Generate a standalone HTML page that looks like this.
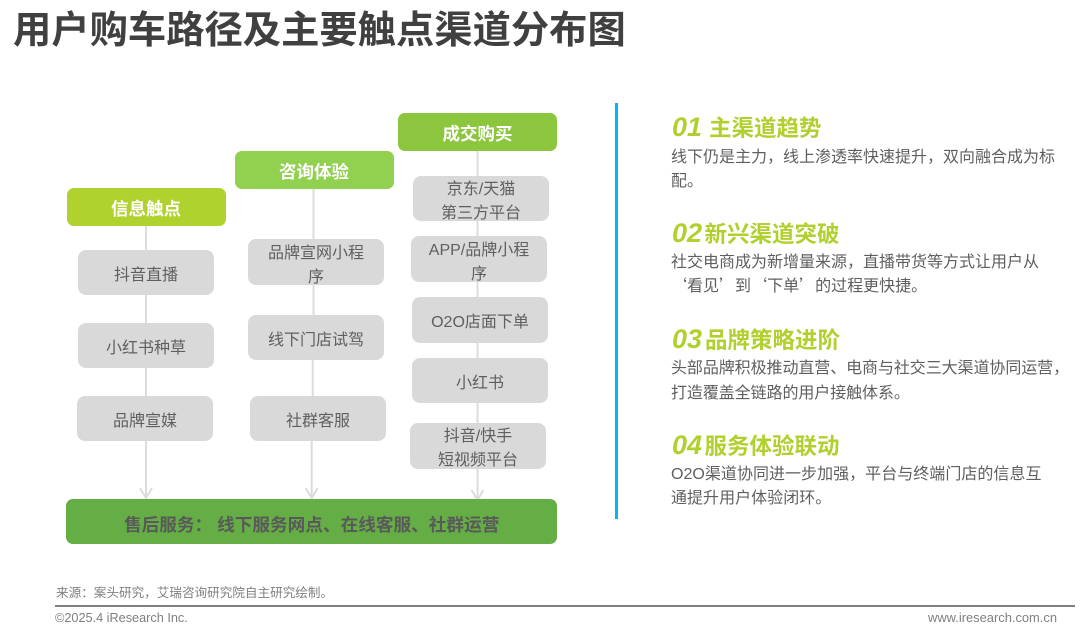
<!DOCTYPE html>
<html lang="zh-CN"><head><meta charset="utf-8">
<style>
html,body{margin:0;padding:0;background:#fff}
#p{position:relative;width:1080px;height:631px;overflow:hidden;background:#fff;font-family:"Liberation Sans","Noto Sans CJK SC",sans-serif}
#p div{position:absolute;box-sizing:border-box}
.h{border-radius:7px;color:#fff;font-weight:bold;font-size:17.5px;display:flex;align-items:center;justify-content:center;width:159px;height:38px;padding-top:3px}
.g{background:#d9d9d9;border-radius:8px;color:#5f5f5f;font-size:16px;line-height:24px;width:136px;display:flex;align-items:center;justify-content:center;text-align:center;padding-top:7px;white-space:nowrap}
.t{left:672px;color:#b0d02e;font-weight:bold;font-size:22.500px;line-height:30px;white-space:nowrap}
.t i{font-size:27px}
.b{left:671px;width:400px;color:#5f5f5f;font-size:16px;line-height:24.500px;white-space:nowrap}
.q{font-family:"Noto Sans CJK SC",sans-serif;line-height:0}
</style></head><body><div id="p">
<div style="left:13px;top:7px;font-size:38.300px;line-height:48px;font-weight:bold;color:#404040;white-space:nowrap">用户购车路径及主要触点渠道分布图</div>

<svg style="position:absolute;left:0;top:0" width="1080" height="631" fill="none" stroke="#dcdcdc" stroke-width="2">
<path d="M146 225V497M140 488l6 10 6-10"/>
<path d="M313.500 188V315L312.700 360V396L311.700 441V497M305.700 488l6 10 6-10"/>
<path d="M477.500 150V499M471.500 490l6 10 6-10"/>
</svg>

<div class="h" style="left:66.500px;top:188px;background:#b0d22f">信息触点</div>
<div class="h" style="left:234.500px;top:150.500px;background:#92d050">咨询体验</div>
<div class="h" style="left:398px;top:112.500px;background:#8cc63f">成交购买</div>

<div class="g" style="left:78px;top:249.500px;height:45.500px">抖音直播</div>
<div class="g" style="left:78px;top:322.500px;height:45.500px">小红书种草</div>
<div class="g" style="left:77px;top:396px;height:45px">品牌宣媒</div>

<div class="g" style="left:248px;top:239px;height:46px">品牌宣网小程<br>序</div>
<div class="g" style="left:248px;top:315px;height:45px">线下门店试驾</div>
<div class="g" style="left:250px;top:396px;height:45px">社群客服</div>

<div class="g" style="left:413px;top:176px;height:44.500px">京东/天猫<br>第三方平台</div>
<div class="g" style="left:411px;top:236px;height:46px">APP/品牌小程<br>序</div>
<div class="g" style="left:412px;top:297px;height:45.500px">O2O店面下单</div>
<div class="g" style="left:412px;top:358px;height:45px;padding-top:6px">小红书</div>
<div class="g" style="left:410px;top:423px;height:45.500px">抖音/快手<br>短视频平台</div>

<div style="left:66px;top:499px;width:491px;height:45px;background:#65ae45;border-radius:7px;color:#595959;font-weight:bold;font-size:17.650px;line-height:52px;padding-left:58px;white-space:nowrap">售后服务： 线下服务网点、在线客服、社群运营</div>

<div style="left:615px;top:103px;width:3px;height:416px;background:#00b8f0"></div>

<div class="t" style="top:111.500px"><i style="margin-right:7px">01</i>主渠道趋势</div>
<div class="b" style="top:145.500px">线下仍是主力，线上渗透率快速提升，双向融合成为标<br>配。</div>
<div class="t" style="top:218px"><i style="margin-right:2.500px">02</i>新兴渠道突破</div>
<div class="b" style="top:250.500px">社交电商成为新增量来源，直播带货等方式让用户从<br><span class="q">‘</span>看见<span class="q">’</span>到<span class="q">‘</span>下单<span class="q">’</span>的过程更快捷。</div>
<div class="t" style="top:324px"><i style="margin-right:3px">03</i>品牌策略进阶</div>
<div class="b" style="top:357px;letter-spacing:-.08px">头部品牌积极推动直营、电商与社交三大渠道协同运营，<br>打造覆盖全链路的用户接触体系。</div>
<div class="t" style="top:429.500px"><i style="margin-right:2.500px">04</i>服务体验联动</div>
<div class="b" style="top:462.500px;letter-spacing:.03px">O2O渠道协同进一步加强，平台与终端门店的信息互<br>通提升用户体验闭环。</div>

<div style="left:56px;top:584.500px;font-size:12.600px;line-height:16px;color:#7f7f7f;white-space:nowrap">来源：案头研究，艾瑞咨询研究院自主研究绘制。</div>
<div style="left:55px;top:605px;width:1020px;height:1.500px;background:#7f7f7f"></div>
<div style="left:55px;top:610px;font-size:12.700px;line-height:16px;color:#7f7f7f;white-space:nowrap">©2025.4 iResearch Inc.</div>
<div style="right:23px;top:610px;font-size:12.900px;line-height:16px;color:#7f7f7f;white-space:nowrap">www.iresearch.com.cn</div>
</div></body></html>
